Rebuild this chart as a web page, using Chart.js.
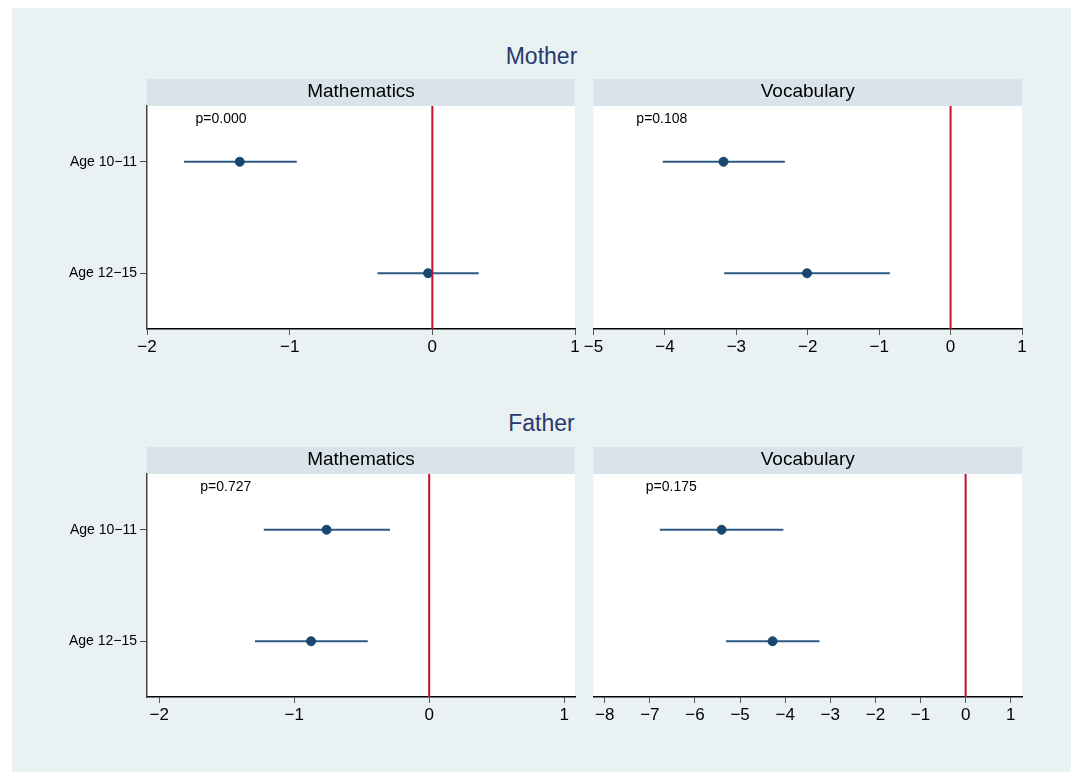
<!DOCTYPE html>
<html>
<head>
<meta charset="utf-8">
<script src="https://cdn.jsdelivr.net/npm/chart.js@4"></script>
<style>
  html, body { margin: 0; padding: 0; background: #fff; }
  body { width: 1071px; height: 772px; position: relative; overflow: hidden; font-family: "Liberation Sans", Arial, sans-serif; }
  #bg { position: absolute; left: 12px; top: 8px; right: 0; bottom: 0; background: #e9f1f3; }
  .title { position: absolute; left: 12px; right: 0; text-align: center; font-size: 23px; line-height: 26px; color: #283a6c; }
  .panel { position: absolute; width: 572px; height: 286px; }
  .panel.right { width: 487px; }
</style>
</head>
<body>
<div id="bg"></div>
<div class="title" style="top:43px">Mother</div>
<div class="title" style="top:410px">Father</div>
<div class="panel" style="left:12px;top:79px"><canvas id="mMath"></canvas></div>
<div class="panel right" style="left:584px;top:79px"><canvas id="mVocab"></canvas></div>
<div class="panel" style="left:12px;top:446.5px"><canvas id="fMath"></canvas></div>
<div class="panel right" style="left:584px;top:446.5px"><canvas id="fVocab"></canvas></div>

<script>
// ── data ──
const rowLabels = ['Age 10\u221211', 'Age 12\u221215'];

const motherMathEst = [-1.35, -0.03];
const motherMathLo  = [-1.74, -0.385];
const motherMathHi  = [-0.95, 0.325];

const motherVocabEst = [-3.18, -2.01];
const motherVocabLo  = [-4.03, -3.17];
const motherVocabHi  = [-2.32, -0.85];

const fatherMathEst = [-0.76, -0.875];
const fatherMathLo  = [-1.225, -1.29];
const fatherMathHi  = [-0.29, -0.455];

const fatherVocabEst = [-5.41, -4.28];
const fatherVocabLo  = [-6.78, -5.31];
const fatherVocabHi  = [-4.04, -3.24];

const mathTicksTop    = [-2, -1, 0, 1];
const vocabTicksTop   = [-5, -4, -3, -2, -1, 0, 1];
const mathTicksBottom = [-2, -1, 0, 1];
const vocabTicksBottom = [-8, -7, -6, -5, -4, -3, -2, -1, 0, 1];

const FONT = '"Liberation Sans", Arial, sans-serif';
const COLORS = {
  strip: '#d8e4ea',
  marker: '#1a476f',
  ci: '#2d5a84',
  zero: '#c8102e'
};

// strip header, white plot region and p-value note
const panelDecor = {
  id: 'panelDecor',
  beforeDraw(chart, args, opts) {
    const { ctx, chartArea: { left, right, top, bottom } } = chart;
    ctx.save();
    ctx.fillStyle = '#fff';
    ctx.fillRect(left, top, right - left, bottom - top);
    ctx.fillStyle = COLORS.strip;
    ctx.fillRect(left, top - 27, right - left, 27);
    ctx.fillStyle = '#000';
    ctx.font = '19px ' + FONT;
    ctx.textAlign = 'center';
    ctx.textBaseline = 'alphabetic';
    ctx.fillText(opts.strip, (left + right) / 2, top - 9.3);
    ctx.restore();
  },
  afterDatasetsDraw(chart, args, opts) {
    const { ctx, chartArea: { top } } = chart;
    const x = chart.scales.x.getPixelForValue(opts.pAt);
    ctx.save();
    ctx.fillStyle = '#000';
    ctx.font = '14px ' + FONT;
    ctx.textAlign = 'left';
    ctx.textBaseline = 'alphabetic';
    ctx.fillText(opts.pText, x, top + 16.7);
    ctx.restore();
  }
};

function minusFmt(v) {
  return String(v).replace('-', '\u2212');
}

function buildPanel(id, cfg) {
  const datasets = [];
  // zero reference line
  datasets.push({
    type: 'line',
    data: [{ x: 0, y: 0.5 }, { x: 0, y: 2.5 }],
    borderColor: COLORS.zero,
    borderWidth: 2,
    pointRadius: 0,
    order: 0
  });
  // point estimates
  datasets.push({
    type: 'scatter',
    data: cfg.est.map((v, i) => ({ x: v, y: i + 1 })),
    backgroundColor: COLORS.marker,
    borderColor: COLORS.marker,
    pointRadius: 4.5,
    order: 1
  });
  // confidence intervals
  cfg.lo.forEach((lo, i) => {
    datasets.push({
      type: 'line',
      data: [{ x: lo, y: i + 1 }, { x: cfg.hi[i], y: i + 1 }],
      borderColor: COLORS.ci,
      borderWidth: 2,
      pointRadius: 0,
      order: 2
    });
  });

  return new Chart(document.getElementById(id), {
    type: 'scatter',
    data: { datasets },
    options: {
      responsive: true,
      maintainAspectRatio: false,
      animation: false,
      events: [],
      layout: { padding: cfg.padding },
      plugins: {
        legend: { display: false },
        tooltip: { enabled: false },
        panelDecor: { strip: cfg.strip, pText: cfg.pText, pAt: cfg.pAt }
      },
      scales: {
        x: {
          type: 'linear',
          min: cfg.min,
          max: cfg.max,
          afterBuildTicks: s => { s.ticks = cfg.ticks.map(v => ({ value: v })); },
          afterFit: s => { s.height = 36; s.paddingLeft = 0; s.paddingRight = 0; },
          border: { display: true, color: '#000', width: 1.5 },
          grid: { drawOnChartArea: false, drawTicks: true, tickLength: 6, color: '#555', lineWidth: 1 },
          ticks: {
            padding: 2,
            color: '#000',
            maxRotation: 0,
            autoSkip: false,
            font: { family: FONT, size: 17 },
            callback: v => minusFmt(v)
          }
        },
        y: {
          type: 'linear',
          display: cfg.showY,
          reverse: true,
          min: 0.5,
          max: 2.5,
          afterBuildTicks: s => { s.ticks = rowLabels.map((_, i) => ({ value: i + 1 })); },
          afterFit: s => { s.width = cfg.showY ? 135 : 0; s.paddingTop = 0; s.paddingBottom = 0; },
          border: { display: true, color: '#444', width: 1.5 },
          grid: { drawOnChartArea: false, drawTicks: true, tickLength: 7, color: '#444', lineWidth: 1 },
          ticks: {
            padding: 3,
            color: '#000',
            autoSkip: false,
            font: { family: FONT, size: 14 },
            callback: v => rowLabels[Math.round(v) - 1] || ''
          }
        }
      }
    },
    plugins: [panelDecor]
  });
}

Chart.defaults.font.family = FONT;

buildPanel('mMath', {
  strip: 'Mathematics', pText: 'p=0.000', pAt: -1.66,
  est: motherMathEst, lo: motherMathLo, hi: motherMathHi,
  min: -2, max: 1, ticks: mathTicksTop, showY: true,
  padding: { top: 27, right: 9, left: 0, bottom: 0 }
});
buildPanel('mVocab', {
  strip: 'Vocabulary', pText: 'p=0.108', pAt: -4.40,
  est: motherVocabEst, lo: motherVocabLo, hi: motherVocabHi,
  min: -5, max: 1, ticks: vocabTicksTop, showY: false,
  padding: { top: 27, right: 49, left: 9.5, bottom: 0 }
});
buildPanel('fMath', {
  strip: 'Mathematics', pText: 'p=0.727', pAt: -1.695,
  est: fatherMathEst, lo: fatherMathLo, hi: fatherMathHi,
  min: -2.09, max: 1.08, ticks: mathTicksBottom, showY: true,
  padding: { top: 27, right: 9, left: 0, bottom: 0 }
});
buildPanel('fVocab', {
  strip: 'Vocabulary', pText: 'p=0.175', pAt: -7.09,
  est: fatherVocabEst, lo: fatherVocabLo, hi: fatherVocabHi,
  min: -8.25, max: 1.25, ticks: vocabTicksBottom, showY: false,
  padding: { top: 27, right: 49, left: 9.5, bottom: 0 }
});
</script>
</body>
</html>
